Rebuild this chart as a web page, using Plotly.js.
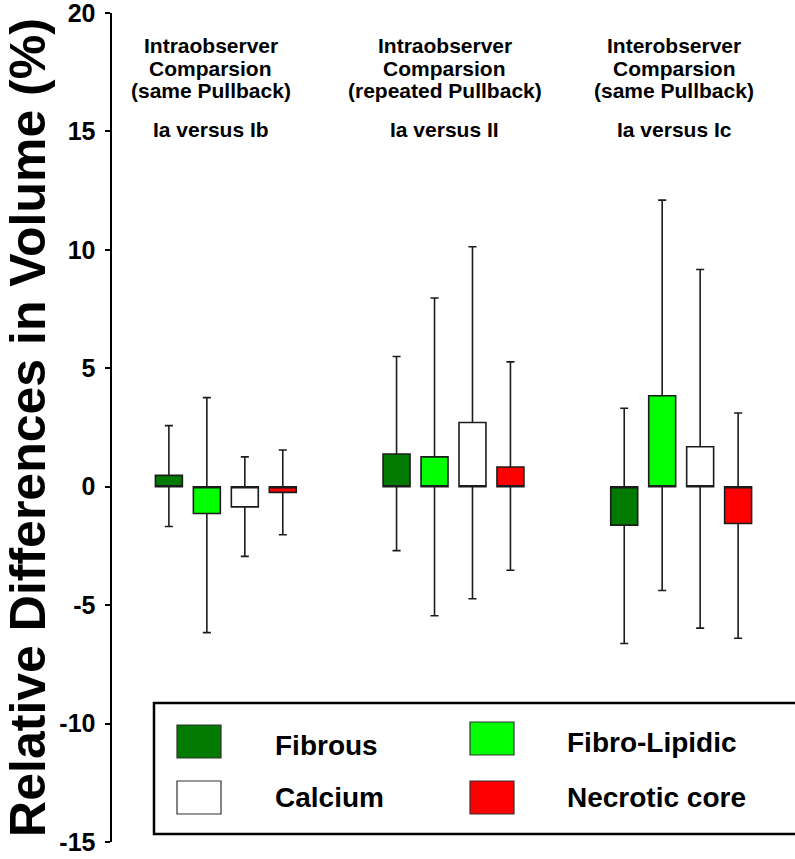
<!DOCTYPE html>
<html><head><meta charset="utf-8">
<script src="https://cdn.plot.ly/plotly-3.0.1.min.js"></script>
<style>html,body{margin:0;padding:0;background:#fff}#chart{width:795px;height:859px}</style>
</head><body><div id="chart"></div>
<script>
// ---- data ----
const groups = ['Ia versus Ib', 'Ia versus II', 'Ia versus Ic'];
const groupHeaderLines = [
  ['Intraobserver', 'Comparsion', '(same Pullback)'],
  ['Intraobserver', 'Comparsion', '(repeated Pullback)'],
  ['Interobserver', 'Comparsion', '(same Pullback)']
];
const tissues = ['Fibrous', 'Fibro-Lipidic', 'Calcium', 'Necrotic core'];
const tissueColors = ['#007a00', '#00ff00', '#ffffff', '#ff0000'];

const fibrousMean = [0.48, 1.38, -1.62];
const fibrousMin = [-1.68, -2.70, -6.62];
const fibrousMax = [2.58, 5.50, 3.31];

const fibroLipidicMean = [-1.13, 1.26, 3.84];
const fibroLipidicMin = [-6.16, -5.45, -4.38];
const fibroLipidicMax = [3.76, 7.97, 12.10];

const calciumMean = [-0.85, 2.71, 1.69];
const calciumMin = [-2.94, -4.73, -5.97];
const calciumMax = [1.26, 10.13, 9.17];

const necroticMean = [-0.24, 0.83, -1.55];
const necroticMin = [-2.03, -3.53, -6.40];
const necroticMax = [1.55, 5.27, 3.11];

const yTicks = [-15, -10, -5, 0, 5, 10, 15, 20];

// ---- build ----
const FONT = 'Liberation Sans, Arial, Helvetica, sans-serif';
const means = [fibrousMean, fibroLipidicMean, calciumMean, necroticMean];
const mins = [fibrousMin, fibroLipidicMin, calciumMin, necroticMin];
const maxs = [fibrousMax, fibroLipidicMax, calciumMax, necroticMax];

const traces = tissues.map((name, i) => ({
  type: 'box',
  name: name,
  x: groups,
  q1: means[i].map(v => Math.min(0, v)),
  median: means[i].map(() => 0),
  q3: means[i].map(v => Math.max(0, v)),
  lowerfence: mins[i],
  upperfence: maxs[i],
  boxpoints: false,
  whiskerwidth: 0.3,
  fillcolor: tissueColors[i],
  line: {color: '#1c1c1c', width: 1.6},
  hoverinfo: 'skip',
  showlegend: false
}));

const M = {l: 112, r: 0, t: 13, b: 17};
const W = 795 - M.l - M.r, H = 859 - M.t - M.b;
const px = x => (x - M.l) / W;
const py = y => 1 - (y - M.t) / H;

const annotations = [];
const headerShift = [-15, -9, -7];
const headerLineY = [45, 68, 91];
const headerFont = {family: FONT, size: 21, weight: 'bold', color: '#000'};
groups.forEach((g, i) => {
  groupHeaderLines[i].forEach((line, k) => {
    annotations.push({
      xref: 'x', yref: 'paper', x: i, xshift: headerShift[i], y: py(headerLineY[k]),
      text: line, showarrow: false, xanchor: 'center', yanchor: 'middle',
      font: headerFont
    });
  });
  annotations.push({
    xref: 'x', yref: 'paper', x: i, xshift: headerShift[i], y: py(130),
    text: g, showarrow: false, xanchor: 'center', yanchor: 'middle',
    font: headerFont
  });
});

// manual legend (2 x 2)
const legendPos = [
  {sx: 177, sy: 725, tx: 273, ty: 745},
  {sx: 470, sy: 722, tx: 565, ty: 742},
  {sx: 177, sy: 781, tx: 273, ty: 797},
  {sx: 470, sy: 781, tx: 565, ty: 797}
];
const shapes = [{
  type: 'rect', xref: 'paper', yref: 'paper',
  x0: px(154), x1: px(800), y0: py(834), y1: py(703),
  line: {color: '#000', width: 2.5}, fillcolor: 'rgba(0,0,0,0)'
}];
tissues.forEach((name, i) => {
  const p = legendPos[i];
  shapes.push({
    type: 'rect', xref: 'paper', yref: 'paper',
    x0: px(p.sx), x1: px(p.sx + 44), y0: py(p.sy + 33), y1: py(p.sy),
    line: {color: '#333', width: 1.2}, fillcolor: tissueColors[i]
  });
  annotations.push({
    xref: 'paper', yref: 'paper', x: px(p.tx), y: py(p.ty),
    text: name, showarrow: false, xanchor: 'left', yanchor: 'middle',
    font: {family: FONT, size: 28, weight: 'bold', color: '#000'}
  });
});

const layout = {
  width: 795, height: 859,
  margin: M,
  paper_bgcolor: '#fff', plot_bgcolor: '#fff',
  boxmode: 'group', boxgap: 0.333, boxgroupgap: 0.29,
  showlegend: false,
  xaxis: {type: 'category', range: [-0.5, 2.5], visible: false, fixedrange: true},
  yaxis: {
    range: [-15, 20], tickvals: yTicks, ticktext: yTicks.map(String),
    showline: true, linecolor: '#000', linewidth: 2.5,
    ticks: 'outside', ticklen: 5, tickwidth: 2, tickcolor: '#000',
    showgrid: false, zeroline: false, ticklabelstandoff: 4,
    ticklabeloverflow: 'allow',
    tickfont: {family: FONT, size: 25, weight: 'bold', color: '#000'},
    title: {text: 'Relative Differences in Volume (%)', standoff: 0,
            font: {family: FONT, size: 50, weight: 'bold', color: '#000'}},
    automargin: false
  },
  annotations: annotations,
  shapes: shapes
};

Plotly.newPlot('chart', traces, layout, {staticPlot: true, displayModeBar: false});
</script>
</body></html>
